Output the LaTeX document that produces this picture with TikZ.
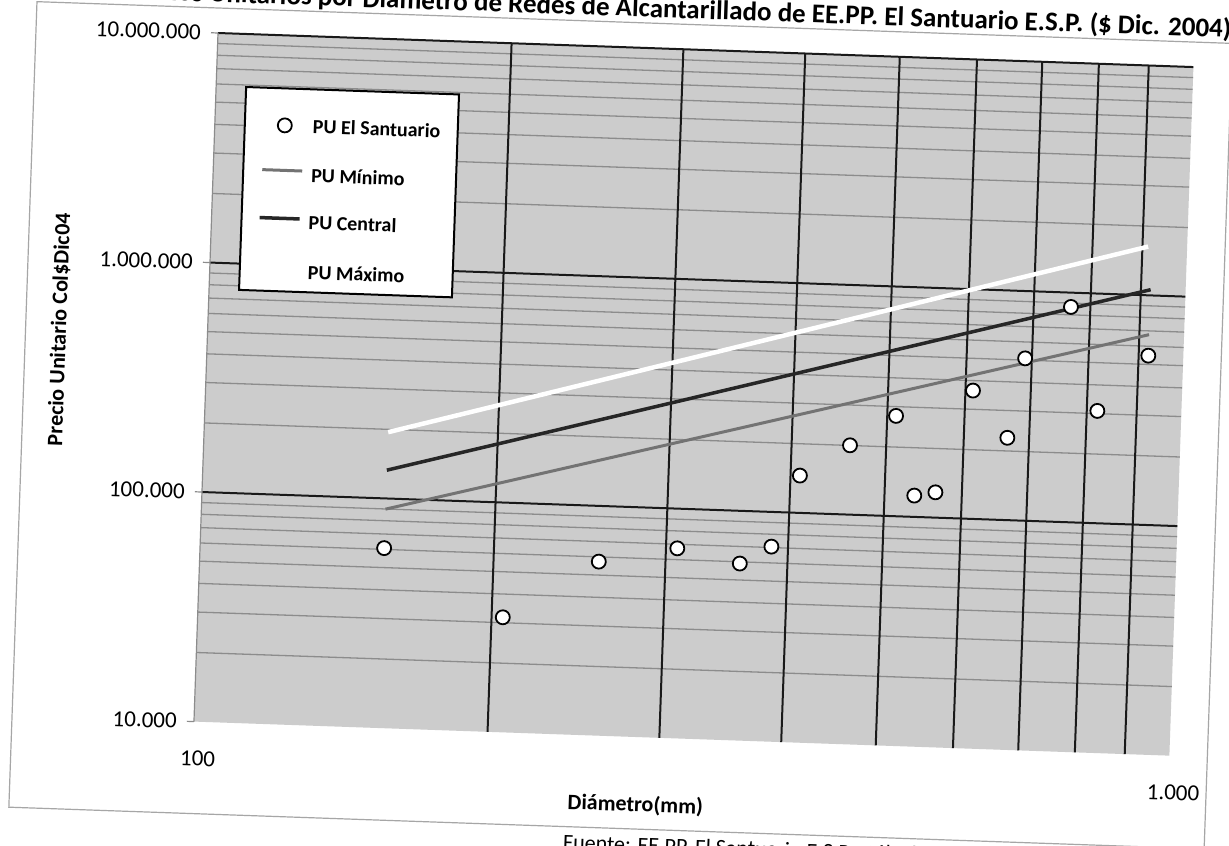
\documentclass[tikz,border=0pt]{standalone}
\usepackage{fontspec}
\setmainfont{Carlito}
\usetikzlibrary{positioning}

\tikzset{
	ticklabel/.style={font=\fontsize{23}{27}\selectfont, inner sep=0pt},
	axistitle/.style={font=\bfseries\fontsize{22}{26}\selectfont, inner sep=0pt},
	legendlabel/.style={font=\bfseries\fontsize{20}{24}\selectfont, inner sep=0pt},
	majorline/.style={line width=2pt, black!90},
	minorline/.style={line width=1.3pt, black!45},
	santuario/.style={circle, draw=black, fill=white, line width=1.8pt, minimum size=14pt, inner sep=0pt},
	puminimo/.style={line width=3pt, black!55},
	pucentral/.style={line width=3.5pt, black!85},
	pumaximo/.style={line width=4.5pt, white},
}

\begin{document}
\begin{tikzpicture}[x=1pt,y=-1pt]
	\useasboundingbox (0,0) rectangle (1229,846);
	\fill[white] (0,0) rectangle (1229,846);
	\begin{scope}[rotate around={-2:(218,33)}, transform shape]
		\draw[black!35, line width=1.2pt] (36,8) rectangle (1232,814); %chart frame%
		\fill[black!20] (218,33) rectangle (1194,722); %plot area%
		\foreach \base in {722,492.3,262.7}
			\foreach \i in {2,...,9}
				\draw[minorline] (218,{\base-99.745*ln(\i)}) -- (1194,{\base-99.745*ln(\i)});
		\foreach \ymaj in {492.3,262.7,33}
			\draw[majorline] (218,\ymaj) -- (1194,\ymaj);
		\foreach \i in {2,...,9}
			\draw[majorline] ({218+423.87*ln(\i)},33) -- ({218+423.87*ln(\i)},722);
		\draw[black!45, line width=1.2pt] (218,33) -- (218,722);
		\foreach \ymaj in {722,492.3,262.7,33}
			\draw[black!45, line width=1.2pt] (211,\ymaj) -- (218,\ymaj);
		\draw[puminimo] (402,503) -- (1159,302); %minimo%
		\draw[pucentral] (402,464) -- (1159,257); %central%
		\draw[pumaximo] (402,426) -- (1155,214); %maximo%
		\foreach \px/\py [count=\k] in {402/542, 523/607, 617/548, 695/532, 758/545, 789/527,
				815/455, 864/423, 909/392, 930/471, 951/467, 985/364, 1021/410, 1036/330,
				1080/277, 1110/380, 1159/323}
			\node[santuario] (pt\k) at (\px,\py) {};
		\draw[fill=white, line width=2pt] (248,86) rectangle (461,289); %legend%
		\node[santuario] (legpt) at (288,123) {};
		\node[legendlabel, right=20pt of legpt] (legsant) {PU El Santuario};
		\draw[puminimo] (267,168) -- (307,168);
		\node[legendlabel, right=9pt of {(307,172)}] (legmin) {PU Mínimo};
		\draw[pucentral] (266,216) -- (306,216);
		\node[legendlabel, right=9pt of {(306,219)}] (legcen) {PU Central};
		\draw[pumaximo] (266,265) -- (306,265);
		\node[legendlabel, right=10pt of {(306,269)}] (legmax) {PU Máximo};
		\foreach \ymaj/\lab [count=\k] in {722/10.000, 492.3/100.000, 262.7/1.000.000, 33/10.000.000}
			\node[ticklabel, left=17pt of {(218,\ymaj)}] (ylab\k) {\lab};
		\node[ticklabel, below=29pt of {(223,722)}] (xlab1) {100};
		\node[ticklabel, below=29pt of {(1199,722)}] (xlab2) {1.000};
		\node[axistitle] (xtitle) at (662,790) {Diámetro(mm)};
		\node[axistitle, rotate=90] (ytitle) at (70,335) {Precio Unitario Col\$Dic04};
		\node[font=\bfseries\fontsize{27}{31}\selectfont, anchor=base west, inner sep=0pt] (title) at (121,2)
			{Precios Unitarios por Diámetro de Redes de Alcantarillado de EE.PP. El Santuario E.S.P. (\$ Dic. 2004)};
		\node[font=\fontsize{22}{26}\selectfont, anchor=base west, inner sep=0pt] (source) at (591,837)
			{Fuente: EE.PP. El Santuario E.S.P.; Cálculos CRA};
	\end{scope}
\end{tikzpicture}
\end{document}
